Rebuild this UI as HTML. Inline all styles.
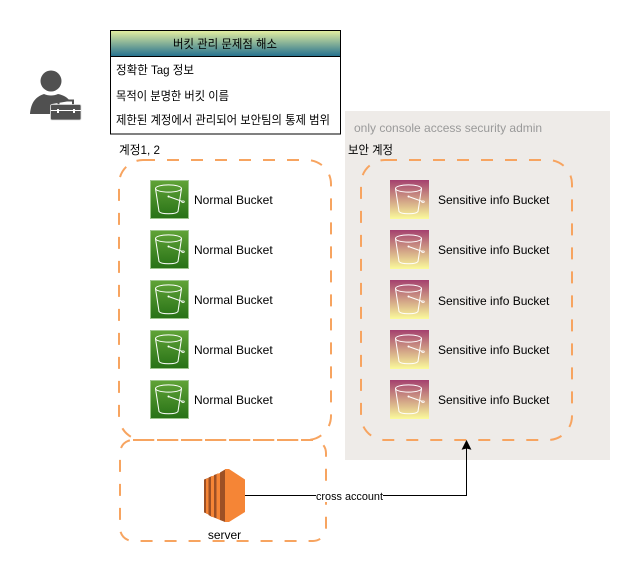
<!DOCTYPE html>
<html>
<head>
<meta charset="utf-8">
<style>
html,body{margin:0;padding:0;background:#fff;width:641px;height:573px;overflow:hidden}
svg{display:block}
text{font-family:"Liberation Sans","Noto Sans CJK KR",sans-serif;font-size:12px;fill:#000}
</style>
</head>
<body>
<svg width="641" height="573" viewBox="0 0 641 573" xmlns="http://www.w3.org/2000/svg">
<defs>
<linearGradient id="hdr" x1="0" y1="0" x2="0" y2="1"><stop offset="0" stop-color="#e6f0a0"/><stop offset="1" stop-color="#23708f"/></linearGradient>
<linearGradient id="grn" x1="0" y1="0" x2="0" y2="1"><stop offset="0" stop-color="#60a337"/><stop offset="1" stop-color="#277116"/></linearGradient>
<linearGradient id="pnk" x1="0" y1="0" x2="0" y2="1"><stop offset="0" stop-color="#a4406e"/><stop offset="1" stop-color="#fbfb9c"/></linearGradient>
<g id="bk" fill="none" stroke="#fff" stroke-width="1">
<ellipse cx="18.5" cy="8.5" rx="13" ry="3.6"/>
<path d="M5.5 8.5 L9 31.5 C11 34.5 26 34.5 28 31.5 L31.5 8.5"/>
<path d="M18.5 16.5 L32.5 21.5"/>
<circle cx="18.5" cy="16.5" r="1" fill="#fff" stroke="none"/>
<ellipse cx="33" cy="21.7" rx="1.3" ry="0.8" stroke-width="0.8"/>
</g>
</defs>

<!-- person -->
<circle cx="51" cy="81" r="10.5" fill="#505050"/>
<path d="M30 114 C31 103 35 97 44 94 C48 96 54 96 58 94 C63 95 67 97 70 101 L52 104 L50 108 L50 114 Z" fill="#505050"/>
<path d="M58.5 105 V100.5 H73 V105" fill="none" stroke="#505050" stroke-width="2"/>
<rect x="50.5" y="104.5" width="30.5" height="15.5" rx="1.5" fill="#505050" stroke="#ddd" stroke-width="0.8"/>
<path d="M51 110.5 H81" stroke="#fff" stroke-width="1"/>
<rect x="57" y="109" width="2" height="4" fill="#fff"/>
<rect x="73" y="109" width="2" height="4" fill="#fff"/>

<!-- title box -->
<rect x="110.5" y="30.5" width="230" height="103.5" fill="#fff" stroke="#000" stroke-width="1"/>
<rect x="110.5" y="30.5" width="230" height="26" fill="url(#hdr)" stroke="#000" stroke-width="1"/>
<text x="173" y="48" textLength="104" lengthAdjust="spacingAndGlyphs">버킷 관리 문제점 해소</text>
<text x="116" y="74" textLength="78" lengthAdjust="spacingAndGlyphs">정확한 Tag 정보</text>
<text x="116" y="100" textLength="113" lengthAdjust="spacingAndGlyphs">목적이 분명한 버킷 이름</text>
<text x="116" y="124" textLength="214" lengthAdjust="spacingAndGlyphs">제한된 계정에서 관리되어 보안팀의 통제 범위</text>

<!-- gray region -->
<rect x="345" y="111" width="265" height="349" fill="#eeebe8"/>
<text x="354" y="132" style="fill:#9a9a9a">only console access security admin</text>
<text x="348" y="154" textLength="45" lengthAdjust="spacingAndGlyphs">보안 계정</text>
<text x="119" y="154" textLength="41" lengthAdjust="spacingAndGlyphs">계정1, 2</text>

<!-- dashed containers -->
<g fill="none" stroke="#f7a460" stroke-width="2" stroke-dasharray="12 12">
<rect x="119" y="160" width="212" height="280" rx="24" ry="24"/>
<rect x="361" y="160" width="211" height="280" rx="24" ry="24"/>
<rect x="120" y="440" width="206" height="101" rx="13" ry="13"/>
</g>

<!-- green buckets -->
<g transform="translate(150,180)"><rect x="0.5" y="0.5" width="38" height="38" fill="url(#grn)" stroke="#9cc58b"/><use href="#bk"/></g>
<g transform="translate(150,230)"><rect x="0.5" y="0.5" width="38" height="38" fill="url(#grn)" stroke="#9cc58b"/><use href="#bk"/></g>
<g transform="translate(150,280)"><rect x="0.5" y="0.5" width="38" height="38" fill="url(#grn)" stroke="#9cc58b"/><use href="#bk"/></g>
<g transform="translate(150,330)"><rect x="0.5" y="0.5" width="38" height="38" fill="url(#grn)" stroke="#9cc58b"/><use href="#bk"/></g>
<g transform="translate(150,380)"><rect x="0.5" y="0.5" width="38" height="38" fill="url(#grn)" stroke="#9cc58b"/><use href="#bk"/></g>
<text x="194" y="204">Normal Bucket</text>
<text x="194" y="254">Normal Bucket</text>
<text x="194" y="304">Normal Bucket</text>
<text x="194" y="354">Normal Bucket</text>
<text x="194" y="404">Normal Bucket</text>

<!-- pink buckets -->
<g transform="translate(390,180)"><rect width="39" height="39" fill="url(#pnk)"/><use href="#bk"/></g>
<g transform="translate(390,230)"><rect width="39" height="39" fill="url(#pnk)"/><use href="#bk"/></g>
<g transform="translate(390,280)"><rect width="39" height="39" fill="url(#pnk)"/><use href="#bk"/></g>
<g transform="translate(390,330)"><rect width="39" height="39" fill="url(#pnk)"/><use href="#bk"/></g>
<g transform="translate(390,380)"><rect width="39" height="39" fill="url(#pnk)"/><use href="#bk"/></g>
<text x="438" y="204">Sensitive info Bucket</text>
<text x="438" y="254">Sensitive info Bucket</text>
<text x="438" y="305">Sensitive info Bucket</text>
<text x="438" y="354">Sensitive info Bucket</text>
<text x="438" y="404">Sensitive info Bucket</text>

<!-- connector -->
<path d="M245 495.5 H466.5 V447" fill="none" stroke="#000" stroke-width="1"/>
<path d="M466.5 441 L470.5 449 L466.5 448 L462.5 449 Z" fill="#000" stroke="#000" stroke-width="1"/>
<rect x="316" y="490" width="67" height="12" fill="#fff"/>
<text x="349.5" y="500" text-anchor="middle" textLength="67" lengthAdjust="spacingAndGlyphs" style="font-size:11px">cross account</text>

<!-- EC2 -->
<path d="M204 479.5 L208 478 V514 L204 512.5 Z" fill="#9d5025"/>
<path d="M206 479 L208.5 478 V514.5 L206 513.5 Z" fill="#f58536"/>
<path d="M208.5 477.5 L212 476 V517 L208.5 515 Z" fill="#9d5025"/>
<path d="M211 476.5 L214 475.5 V517.5 L211 516.5 Z" fill="#f58536"/>
<path d="M214 475 L218 473.5 V519 L214 517.5 Z" fill="#9d5025"/>
<path d="M216.5 474 L220 473 V520 L216.5 518.5 Z" fill="#f58536"/>
<path d="M220 472.5 L225 469.5 V522 L220 520 Z" fill="#9d5025"/>
<path d="M225 469 L229 469 L245 479.5 V512 L229 522 L225 522 Z" fill="#f58536"/>
<text x="224.5" y="539" text-anchor="middle">server</text>
</svg>
</body>
</html>
